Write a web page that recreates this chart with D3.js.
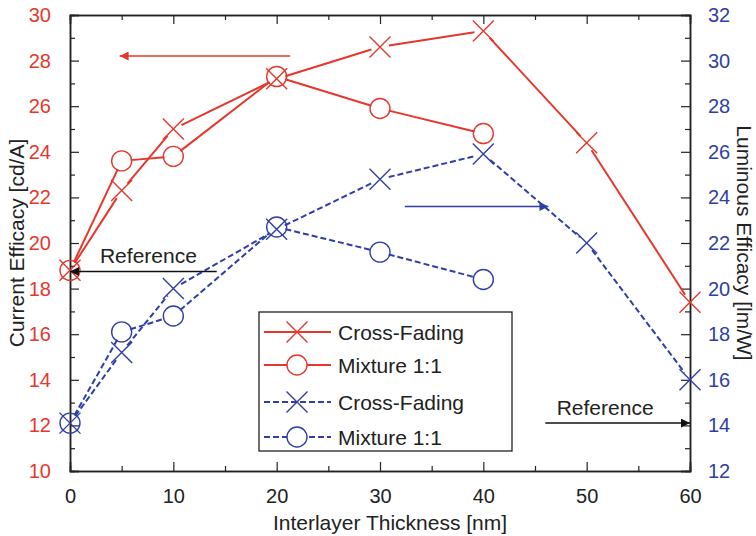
<!DOCTYPE html>
<html>
<head>
<meta charset="utf-8">
<script src="https://cdn.jsdelivr.net/npm/d3@7"></script>
<style>
  body { margin: 0; background: #fff; }
  svg { font-family: "Liberation Sans", Arial, sans-serif; }
</style>
</head>
<body>
<svg id="chart" width="756" height="536"></svg>
<script>
// thickness values (nm)
const thicknessCross = [0, 5, 10, 20, 30, 40, 50, 60];
const thicknessMix = [0, 5, 10, 20, 30, 40];

// current efficacy [cd/A] - left axis
const currentCross = [18.8, 22.3, 25.0, 27.2, 28.6, 29.3, 24.4, 17.4];
const currentMix = [18.8, 23.6, 23.8, 27.3, 25.9, 24.8];

// luminous efficacy [lm/W] - right axis
const luminousCross = [14.1, 17.2, 20.0, 22.6, 24.8, 25.9, 22.0, 16.0];
const luminousMix = [14.1, 18.1, 18.8, 22.7, 21.6, 20.4];

const xTicks = [0, 10, 20, 30, 40, 50, 60];
const leftTicks = [10, 12, 14, 16, 18, 20, 22, 24, 26, 28, 30];
const rightTicks = [12, 14, 16, 18, 20, 22, 24, 26, 28, 30, 32];

const legendLabels = ["Cross-Fading", "Mixture 1:1", "Cross-Fading", "Mixture 1:1"];

const red = "#e6372d";
const blue = "#2f3fa6";

const margin = { top: 15, right: 66, bottom: 65, left: 70 };
const width = 756 - margin.left - margin.right;
const height = 536 - margin.top - margin.bottom;

const svg = d3.select("#chart");
const g = svg.append("g").attr("transform", `translate(${margin.left},${margin.top})`);

const x = d3.scaleLinear().domain([0, 60]).range([0, width]);
const yL = d3.scaleLinear().domain([10, 30]).range([height, 0]);
const yR = d3.scaleLinear().domain([12, 32]).range([height, 0]);

// frame + inward ticks
const tickMajor = 9, tickMinor = 5;
function inwardAxis(axisGen, transform) {
  return g.append("g").attr("transform", transform).call(axisGen)
    .call(a => a.select(".domain").attr("stroke", "#222").attr("stroke-width", 1.5))
    .call(a => a.selectAll(".tick line").attr("stroke", "#222").attr("stroke-width", 1.2));
}

// minor ticks
const axBottomMinor = d3.axisBottom(x).tickValues(d3.range(5, 60, 10)).tickSize(-tickMinor).tickFormat("");
const axTopMinor = d3.axisTop(x).tickValues(d3.range(5, 60, 10)).tickSize(-tickMinor).tickFormat("");
const axLeftMinor = d3.axisLeft(yL).tickValues(d3.range(11, 30, 2)).tickSize(-tickMinor).tickFormat("");
const axRightMinor = d3.axisRight(yR).tickValues(d3.range(13, 32, 2)).tickSize(-tickMinor).tickFormat("");
inwardAxis(axBottomMinor, `translate(0,${height})`);
inwardAxis(axTopMinor, "translate(0,0)");
inwardAxis(axLeftMinor, "translate(0,0)");
inwardAxis(axRightMinor, `translate(${width},0)`);

// major ticks
const xb = inwardAxis(d3.axisBottom(x).tickValues(xTicks).tickSize(-tickMajor).tickPadding(18), `translate(0,${height})`);
xb.selectAll("text").attr("fill", "#222").style("font-size", "20px");
inwardAxis(d3.axisTop(x).tickValues(xTicks).tickSize(-tickMajor).tickFormat(""), "translate(0,0)");
const yl = inwardAxis(d3.axisLeft(yL).tickValues(leftTicks).tickSize(-tickMajor).tickPadding(19), "translate(0,0)");
yl.selectAll("text").attr("fill", red).style("font-size", "20px");
const yr = inwardAxis(d3.axisRight(yR).tickValues(rightTicks).tickSize(-tickMajor).tickPadding(18), `translate(${width},0)`);
yr.selectAll("text").attr("fill", blue).style("font-size", "20px");
svg.selectAll(".tick text").attr("font-family", null);

// axis titles
svg.append("text").attr("x", margin.left + width / 2 + 10).attr("y", 530)
  .attr("text-anchor", "middle").style("font-size", "21px").attr("fill", "#222")
  .text("Interlayer Thickness [nm]");
svg.append("text").attr("transform", `translate(24,${margin.top + height / 2}) rotate(-90)`)
  .attr("text-anchor", "middle").style("font-size", "21px").attr("fill", "#222")
  .text("Current Efficacy [cd/A]");
svg.append("text").attr("transform", `translate(737,${margin.top + height / 2}) rotate(90)`)
  .attr("text-anchor", "middle").style("font-size", "21px").attr("fill", "#222")
  .text("Luminous Efficacy [lm/W]");

// series
const series = [
  { xs: thicknessCross, ys: currentCross, scale: yL, color: red, dash: null, marker: "x" },
  { xs: thicknessMix, ys: currentMix, scale: yL, color: red, dash: null, marker: "o" },
  { xs: thicknessCross, ys: luminousCross, scale: yR, color: blue, dash: "6,3", marker: "x" },
  { xs: thicknessMix, ys: luminousMix, scale: yR, color: blue, dash: "6,3", marker: "o" }
];

const gap = 9;
function drawMarker(sel, type, cx, cy, color) {
  if (type === "x") {
    const s = 10.5;
    sel.append("path")
      .attr("d", `M${cx - s},${cy - s}L${cx + s},${cy + s}M${cx - s},${cy + s}L${cx + s},${cy - s}`)
      .attr("stroke", color).attr("stroke-width", 1.4).attr("fill", "none");
  } else {
    sel.append("circle").attr("cx", cx).attr("cy", cy).attr("r", 10)
      .attr("stroke", color).attr("stroke-width", 1.4).attr("fill", "none");
  }
}

series.forEach(s => {
  const pts = s.xs.map((d, i) => [x(d), s.scale(s.ys[i])]);
  const lg = g.append("g");
  for (let i = 0; i < pts.length - 1; i++) {
    const [x1, y1] = pts[i], [x2, y2] = pts[i + 1];
    const len = Math.hypot(x2 - x1, y2 - y1);
    const ux = (x2 - x1) / len, uy = (y2 - y1) / len;
    lg.append("line")
      .attr("x1", x1 + ux * gap).attr("y1", y1 + uy * gap)
      .attr("x2", x2 - ux * gap).attr("y2", y2 - uy * gap)
      .attr("stroke", s.color).attr("stroke-width", 2)
      .attr("stroke-dasharray", s.dash);
  }
  pts.forEach(p => drawMarker(lg, s.marker, p[0], p[1], s.color));
});

// arrows
const defs = svg.append("defs");
[["arrRed", red], ["arrBlue", blue], ["arrBlack", "#111"]].forEach(([id, c]) => {
  defs.append("marker").attr("id", id).attr("viewBox", "0 0 10 10")
    .attr("refX", 10).attr("refY", 5).attr("markerWidth", 11).attr("markerHeight", 9)
    .attr("markerUnits", "userSpaceOnUse").attr("orient", "auto")
    .append("path").attr("d", "M0,0L10,5L0,10Z").attr("fill", c);
});
function arrow(x1, y1, x2, y2, color, id) {
  g.append("line").attr("x1", x(x1)).attr("y1", y1).attr("x2", x(x2)).attr("y2", y2)
    .attr("stroke", color).attr("stroke-width", 1.5).attr("marker-end", `url(#${id})`);
}
arrow(21.3, yL(28.2), 4.8, yL(28.2), red, "arrRed");
arrow(32.4, yR(23.6), 46.3, yR(23.6), blue, "arrBlue");
arrow(14.2, yL(18.75), 0, yL(18.75), "#111", "arrBlack");
arrow(46, yR(14.1), 60, yR(14.1), "#111", "arrBlack");

g.append("text").attr("x", x(2.9)).attr("y", yL(18.75) - 9)
  .style("font-size", "21px").attr("fill", "#222").text("Reference");
g.append("text").attr("x", x(47.1)).attr("y", yR(14.1) - 8)
  .style("font-size", "21px").attr("fill", "#222").text("Reference");

// legend
const leg = svg.append("g").attr("transform", "translate(259,312)");
leg.append("rect").attr("width", 253).attr("height", 139)
  .attr("fill", "#fff").attr("stroke", "#222").attr("stroke-width", 1.3);
const rowY = [20, 53, 90, 125];
series.forEach((s, i) => {
  const ry = rowY[i];
  leg.append("line").attr("x1", 5).attr("x2", 72).attr("y1", ry).attr("y2", ry)
    .attr("stroke", s.color).attr("stroke-width", 2).attr("stroke-dasharray", s.dash);
  if (s.marker === "o") {
    leg.append("circle").attr("cx", 38).attr("cy", ry).attr("r", 10).attr("fill", "#fff");
  }
  drawMarker(leg, s.marker, 38, ry, s.color);
  leg.append("text").attr("x", 79).attr("y", ry).attr("dy", "0.36em")
    .style("font-size", "21px").attr("fill", "#222").text(legendLabels[i]);
});
</script>
</body>
</html>
